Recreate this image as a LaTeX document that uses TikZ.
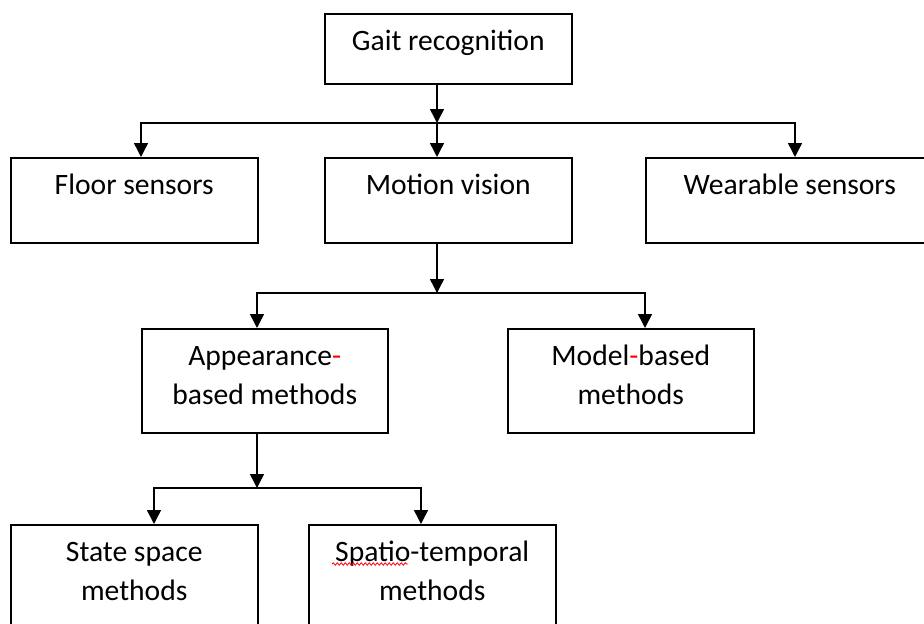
\documentclass[tikz,border=0pt]{standalone}
\usepackage{fontspec}
\setmainfont{Carlito}
\usetikzlibrary{arrows.meta,decorations.pathmorphing}

\tikzset{
  blk/.style 2 args={draw, line width=1.5pt, inner sep=0pt, anchor=north west,
    font=\fontsize{29.6}{39}\selectfont,
    execute at begin node={\begin{minipage}[t][#2][t]{#1}\centering\rule{0pt}{36.5pt}},
    execute at end node={\end{minipage}}},
  con/.style={line width=1.5pt, -{Triangle[length=14pt,width=14pt]}},
  squiggle/.style={red, line width=0.8pt, decorate,
    decoration={snake, amplitude=1.2pt, segment length=4pt}},
}
\newcommand\redhy{\textcolor{red}{-}}

\begin{document}
\begin{tikzpicture}[x=1pt, y=-1pt]
\useasboundingbox (0,0) rectangle (924,624);
% boxes, row by row
\node[blk={247pt}{70pt}]  (gait)   at (324,13)  {Gait recognition\hspace*{12pt}};
\node[blk={247pt}{85pt}]  (floor)  at (10,157)  {Floor sensors};
\node[blk={247pt}{85pt}]  (motion) at (324,157) {Motion vision};
\node[blk={288pt}{85pt}]  (wear)   at (645,157) {Wearable sensors};
\node[blk={246pt}{104pt}] (app)    at (141,328) {Appearance\redhy\\based methods};
\node[blk={246pt}{104pt}] (model)  at (507,328) {Model\redhy based\\methods};
\node[blk={247pt}{106pt}] (state)  at (10,524)  {State space\\methods};
\node[blk={247pt}{106pt}] (spatio) at (308,524) {Spatio-temporal\\methods};
% spell-check mark under "Spatio"
\draw[squiggle] (332,564) -- (408,564);
% junctions on the buses
\coordinate (j1)  at (437,123);
\coordinate (j1l) at (141,123);
\coordinate (j1r) at (795,123);
\coordinate (j2)  at (437,293);
\coordinate (j2l) at (257,293);
\coordinate (j2r) at (645,293);
\coordinate (j3)  at (257,488);
\coordinate (j3l) at (154,488);
\coordinate (j3r) at (421,488);
% connectors
\draw[con] (gait.south -| j1) -- (j1);
\draw[con] (j1) -- (j1l) -- (j1l |- floor.north);
\draw[con] (j1) -- (j1 |- motion.north);
\draw[con] (j1) -- (j1r) -- (j1r |- wear.north);
\draw[con] (motion.south -| j2) -- (j2);
\draw[con] (j2) -- (j2l) -- (j2l |- app.north);
\draw[con] (j2) -- (j2r) -- (j2r |- model.north);
\draw[con] (app.south -| j3) -- (j3);
\draw[con] (j3) -- (j3l) -- (j3l |- state.north);
\draw[con] (j3) -- (j3r) -- (j3r |- spatio.north);
\end{tikzpicture}
\end{document}
